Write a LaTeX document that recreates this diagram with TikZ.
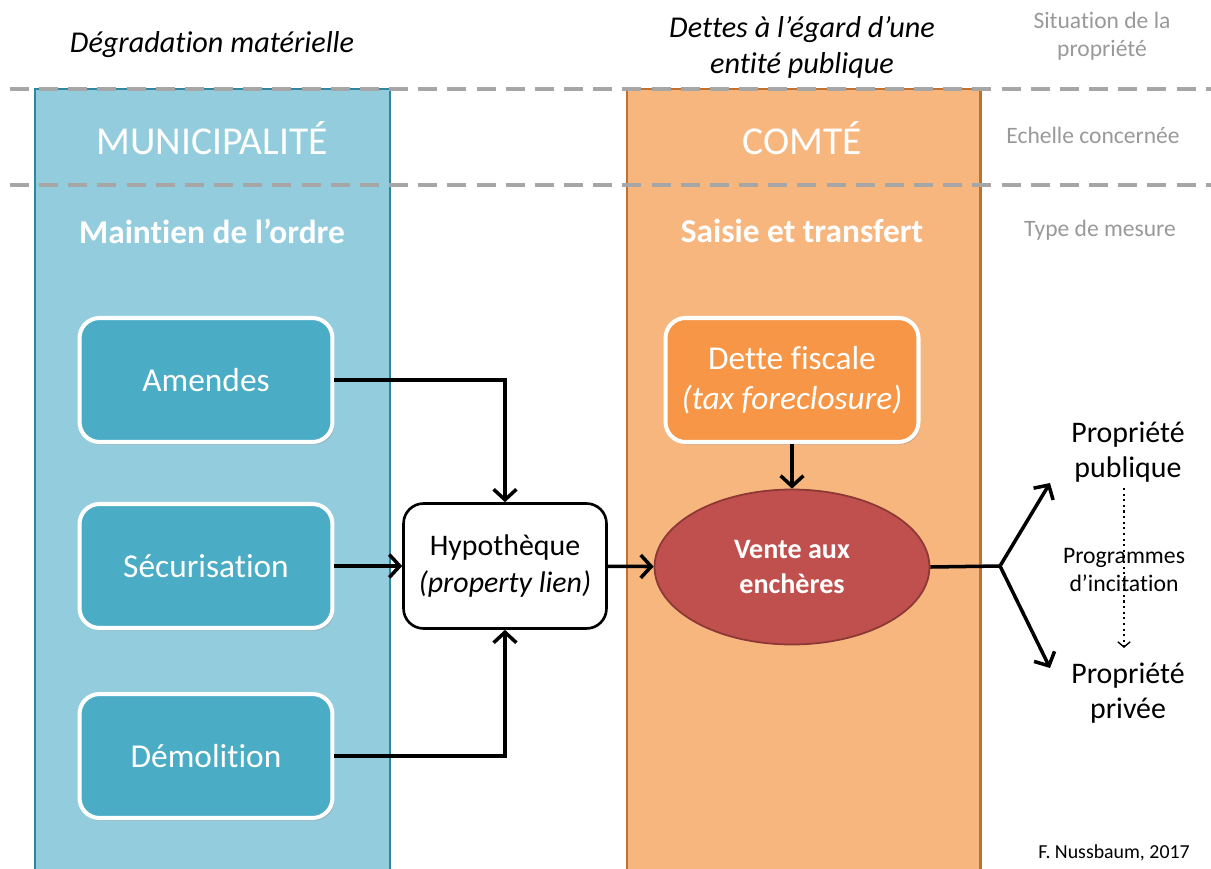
\documentclass[tikz,border=0pt]{standalone}
\usepackage{fontspec}
\setmainfont{Carlito}[Ligatures=NoCommon]
\usetikzlibrary{arrows.meta, shapes.geometric, shadows}

\definecolor{muniblue}{HTML}{93CDDD}
\definecolor{muniedge}{HTML}{31859C}
\definecolor{boxblue}{HTML}{4BACC6}
\definecolor{comtorange}{HTML}{F8B67F}
\definecolor{comtedge}{HTML}{C0712F}
\definecolor{detteorange}{HTML}{F79646}
\definecolor{ventered}{HTML}{C0504D}
\definecolor{ventedge}{HTML}{8C3836}
\definecolor{guidegray}{HTML}{A6A6A6}
\definecolor{labelgray}{HTML}{999999}

\begin{document}
\begin{tikzpicture}[x=0.02cm, y=-0.02cm,
    column edge/.style={line width=1.7pt},
    guide line/.style={draw=guidegray, line width=2.2pt, dash pattern=on 10.8pt off 5.8pt},
    top label/.style={align=center, font=\fontsize{17.2}{20.5}\selectfont\itshape},
    side label/.style={align=center, text=labelgray, font=\fontsize{13.4}{16}\selectfont},
    scale label/.style={text=white, font=\fontsize{22.5}{26}\selectfont},
    measure label/.style={text=white, font=\fontsize{19}{23}\selectfont\bfseries},
    action node/.style={rounded corners=0.4cm, draw=white, line width=2.3pt, text=white,
        minimum width=5.06cm, minimum height=2.48cm, align=center,
        font=\fontsize{19}{23}\selectfont,
        drop shadow={opacity=0.35, shadow xshift=1pt, shadow yshift=-1.5pt}},
    lien node/.style={rounded corners=0.4cm, draw=black, fill=white, line width=1.5pt,
        minimum width=4.06cm, minimum height=2.5cm, align=center,
        font=\fontsize{17}{21}\selectfont},
    sale node/.style={ellipse, draw=ventedge, fill=ventered, line width=1pt, text=white,
        minimum width=5.5cm, minimum height=3.1cm, inner sep=0pt, align=center,
        font=\fontsize{16}{20}\selectfont\bfseries},
    result node/.style={align=center, font=\fontsize{17}{19.5}\selectfont},
    flow/.style={line width=2pt, -{Straight Barb[length=6pt, width=13pt, line width=2pt]}}]
\useasboundingbox (0,0) rectangle (1211,869);

\fill[muniblue] (35,89) rectangle (390,890);
\draw[muniedge, column edge] (35,890) -- (35,89) -- (390,89) -- (390,890);
\fill[comtorange] (627,89) rectangle (980,890);
\draw[comtedge, column edge] (627,890) -- (627,89) -- (980,89) -- (980,890);

\draw[guide line] (10,89) -- (1211,89);
\draw[guide line] (10,185) -- (1211,185);

\node[top label] (degradation) at (212,45) {Dégradation matérielle};
\node[top label] (dettes) at (802,47) {Dettes à l’égard d’une\\entité publique};
\node[side label] (situation) at (1102,36) {Situation de la\\propriété};
\node[side label] (echelle) at (1093,135) {Echelle concernée};
\node[side label] (type) at (1100,230) {Type de mesure};

\node[scale label] (muni) at (212,138) {MUNICIPALITÉ};
\node[scale label] (comte) at (802,138) {COMTÉ};
\node[measure label] (ordre) at (212,231) {Maintien de l’ordre};
\node[measure label] (saisie) at (802,231) {Saisie et transfert};

\node[action node, fill=boxblue] (amendes) at (206,380) {Amendes};
\node[action node, fill=boxblue] (secu) at (206,566) {Sécurisation};
\node[action node, fill=boxblue] (demol) at (206,756) {Démolition};
\node[lien node] (hypo) at (505,566) {Hypothèque\\\textit{(property lien)}};
\node[action node, fill=detteorange] (dette) at (792,380) {Dette fiscale\\\textit{(tax foreclosure)}};
\node[sale node] (vente) at (792,567) {Vente aux\\enchères};

\node[result node] (publique) at (1128,452) {Propriété\\publique};
\node[result node] (privee) at (1128,693) {Propriété\\privée};
\coordinate (fork) at (1000,566);
\coordinate (pubtip) at (1050,483);
\coordinate (privtip) at (1050,668);

\draw[flow] (amendes.east) -| (hypo.north);
\draw[flow] (secu) -- (hypo);
\draw[flow] (demol.east) -| (hypo.south);
\draw[flow] (hypo) -- (vente);
\draw[flow] (dette) -- (vente);
\draw[line width=2pt] (vente.east) -- (fork);
\draw[flow] (fork) -- (pubtip);
\draw[flow] (fork) -- (privtip);

\draw[line width=1.2pt, dotted, -{Straight Barb[length=3pt, width=7pt, line width=0.8pt]}]
    (1124,488) -- (1124,648);
\node[align=center, font=\fontsize{13.5}{16}\selectfont] (programmes) at (1124,570) {Programmes\\d’incitation};

\node[font=\fontsize{11.3}{13}\selectfont] (credit) at (1114,853) {F. Nussbaum, 2017};
\end{tikzpicture}
\end{document}
